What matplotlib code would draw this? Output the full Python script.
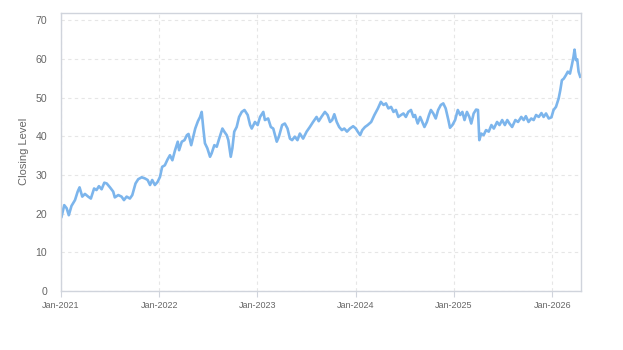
import pandas as pd
import matplotlib.pyplot as plt
import matplotlib.dates as mdates

plt.rcParams['font.family'] = ['Liberation Sans', 'DejaVu Sans']

dates = [
    "2021-01-03", "2021-01-13", "2021-01-22", "2021-01-30", "2021-02-09", "2021-02-22",
    "2021-03-04", "2021-03-11", "2021-03-21", "2021-03-31", "2021-04-12", "2021-04-22",
    "2021-05-04", "2021-05-13", "2021-05-22", "2021-06-01", "2021-06-11", "2021-06-20",
    "2021-07-02", "2021-07-14", "2021-07-20", "2021-08-02", "2021-08-14", "2021-08-23",
    "2021-09-02", "2021-09-14", "2021-09-23", "2021-10-05", "2021-10-15", "2021-10-28",
    "2021-11-09", "2021-11-19", "2021-11-28", "2021-12-06", "2021-12-16", "2021-12-26",
    "2022-01-04", "2022-01-12", "2022-01-22", "2022-02-01", "2022-02-10", "2022-02-19",
    "2022-03-01", "2022-03-11", "2022-03-16", "2022-03-26", "2022-04-05", "2022-04-14",
    "2022-04-20", "2022-04-30", "2022-05-09", "2022-05-15", "2022-05-25", "2022-06-02",
    "2022-06-08", "2022-06-14", "2022-06-20", "2022-06-29", "2022-07-09", "2022-07-15",
    "2022-07-25", "2022-08-03", "2022-08-12", "2022-08-24", "2022-08-31", "2022-09-09",
    "2022-09-15", "2022-09-24", "2022-09-30", "2022-10-07", "2022-10-16", "2022-10-25",
    "2022-11-04", "2022-11-14", "2022-11-26", "2022-12-05", "2022-12-11", "2022-12-23",
    "2023-01-02", "2023-01-11", "2023-01-23", "2023-01-29", "2023-02-10", "2023-02-20",
    "2023-03-01", "2023-03-14", "2023-03-22", "2023-04-03", "2023-04-13", "2023-04-23",
    "2023-05-02", "2023-05-10", "2023-05-20", "2023-05-30", "2023-06-08", "2023-06-20",
    "2023-07-03", "2023-07-15", "2023-07-27", "2023-08-09", "2023-08-17", "2023-08-27",
    "2023-09-09", "2023-09-19", "2023-09-28", "2023-10-06", "2023-10-14", "2023-10-23",
    "2023-11-01", "2023-11-11", "2023-11-20", "2023-11-30", "2023-12-11", "2023-12-23",
    "2024-01-02", "2024-01-09", "2024-01-18", "2024-01-26", "2024-02-05", "2024-02-15",
    "2024-02-28", "2024-03-11", "2024-03-24", "2024-04-04", "2024-04-14", "2024-04-23",
    "2024-05-02", "2024-05-12", "2024-05-21", "2024-05-30", "2024-06-08", "2024-06-18",
    "2024-06-27", "2024-07-06", "2024-07-15", "2024-07-25", "2024-08-03", "2024-08-09",
    "2024-08-19", "2024-08-28", "2024-09-05", "2024-09-13", "2024-09-22", "2024-09-30",
    "2024-10-07", "2024-10-16", "2024-10-25", "2024-11-03", "2024-11-13", "2024-11-22",
    "2024-12-01", "2024-12-11", "2024-12-17", "2024-12-26", "2025-01-05", "2025-01-15",
    "2025-01-24", "2025-02-01", "2025-02-09", "2025-02-18", "2025-02-27", "2025-03-06",
    "2025-03-15", "2025-03-24", "2025-03-31", "2025-04-05", "2025-04-12", "2025-04-21",
    "2025-04-30", "2025-05-10", "2025-05-20", "2025-05-29", "2025-06-10", "2025-06-19",
    "2025-06-29", "2025-07-09", "2025-07-18", "2025-07-26", "2025-08-05", "2025-08-17",
    "2025-08-27", "2025-09-08", "2025-09-17", "2025-09-25", "2025-10-05", "2025-10-15",
    "2025-10-24", "2025-11-02", "2025-11-12", "2025-11-22", "2025-11-30", "2025-12-09",
    "2025-12-19", "2025-12-29", "2026-01-06", "2026-01-15", "2026-01-25", "2026-01-31",
    "2026-02-06", "2026-02-13", "2026-02-21", "2026-02-28", "2026-03-08", "2026-03-15",
    "2026-03-21", "2026-03-25", "2026-03-30", "2026-04-04", "2026-04-09", "2026-04-15",
]

closing = [
    19.2, 22.2, 21.4, 19.6, 22.0, 23.5,
    25.7, 26.8, 24.4, 25.1, 24.4, 23.9,
    26.5, 26.1, 27.1, 26.3, 28.0, 27.8,
    26.8, 25.7, 24.2, 24.8, 24.4, 23.5,
    24.4, 23.9, 24.8, 27.8, 28.9, 29.4,
    29.1, 28.7, 27.4, 28.7, 27.4, 28.2,
    29.5, 32.1, 32.5, 34.0, 35.1, 33.8,
    36.4, 38.6, 36.4, 38.6, 39.0, 40.3,
    40.6, 37.7, 40.3, 42.0, 43.9, 45.0,
    46.3, 42.0, 38.2, 36.9, 34.7, 35.6,
    37.7, 37.3, 39.4, 42.0, 41.2, 40.3,
    39.0, 34.7, 36.9, 41.2, 42.4, 45.0,
    46.3, 46.8, 45.5, 42.9, 42.0, 43.7,
    42.9, 45.0, 46.3, 44.2, 44.6, 42.4,
    42.0, 38.6, 39.9, 42.9, 43.3, 42.0,
    39.4, 39.0, 39.9, 39.0, 40.7, 39.4,
    41.2, 42.4, 43.7, 45.0, 43.9, 45.0,
    46.3, 45.5, 43.7, 44.2, 45.7, 43.7,
    42.4, 41.6, 42.0, 41.2, 42.0, 42.6,
    42.0, 41.2, 40.3, 41.6, 42.4, 42.9,
    43.7, 45.5, 47.2, 48.9, 48.1, 48.5,
    47.2, 47.6, 46.3, 46.8, 45.0, 45.5,
    45.9, 45.0, 46.3, 46.8, 45.0, 45.5,
    43.3, 45.0, 43.7, 42.4, 43.7, 45.5,
    46.8, 45.9, 44.6, 46.8, 48.1, 48.5,
    47.2, 44.2, 42.2, 42.9, 44.2, 46.8,
    45.5, 46.3, 44.2, 46.3, 45.0, 43.3,
    45.9, 46.9, 46.8, 39.0, 40.7, 40.3,
    41.6, 41.2, 42.9, 42.0, 43.7, 42.9,
    44.2, 42.9, 44.2, 43.3, 42.4, 44.2,
    43.7, 45.0, 44.2, 45.2, 43.7, 44.6,
    44.2, 45.5, 45.0, 46.0, 45.0, 45.9,
    44.6, 44.9, 46.8, 47.6, 49.8, 51.9,
    54.5, 54.9, 55.8, 56.7, 56.2, 58.4,
    60.5, 62.4, 59.7, 59.9, 56.7, 55.4,
]

tick_dates = ["2021-01-01", "2022-01-01", "2023-01-01", "2024-01-01", "2025-01-01", "2026-01-01"]
tick_labels = ["Jan-2021", "Jan-2022", "Jan-2023", "Jan-2024", "Jan-2025", "Jan-2026"]

df = pd.DataFrame({"date": pd.to_datetime(dates), "close": closing})

fig = plt.figure(figsize=(6.23, 3.5), dpi=100)
ax = fig.add_axes([61 / 623, 1 - 291 / 350, 520 / 623, 278.5 / 350])

ax.plot(df["date"], df["close"], color="#7cb5ec", linewidth=1.9, solid_joinstyle="round")

ax.set_xlim(pd.Timestamp("2021-01-01"), pd.Timestamp("2026-04-18"))
ax.set_ylim(0, 72)
ax.set_yticks(range(0, 71, 10))
ax.set_xticks(pd.to_datetime(tick_dates))
ax.set_xticklabels(tick_labels)

ax.grid(True, color="#e6e6e6", linestyle=(0, (3, 3)), linewidth=0.8)
ax.set_axisbelow(True)
for side in ax.spines.values():
    side.set_color("#d0d4dc")
    side.set_linewidth(1)

ax.tick_params(axis="y", length=0, pad=10, labelsize=7.6, labelcolor="#666666")
ax.tick_params(axis="x", length=4, width=0.8, color="#d0d4dc", pad=3, labelsize=6.5,
               labelcolor="#666666")

ax.set_ylabel("Closing Level", fontsize=8, color="#666666", labelpad=5)

fig.savefig("out.png", dpi=100)
